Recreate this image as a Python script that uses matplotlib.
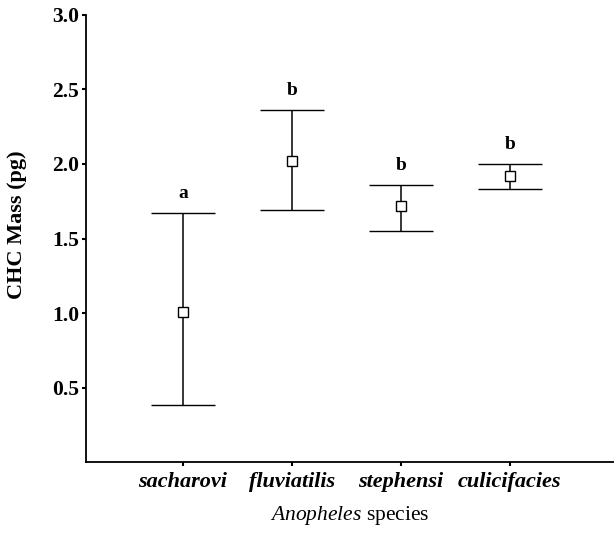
import numpy as np
import matplotlib
matplotlib.use("Agg")
import matplotlib.pyplot as plt

# data
species = ["sacharovi", "fluviatilis", "stephensi", "culicifacies"]
means = [1.01, 2.02, 1.72, 1.92]
upper = [1.67, 2.36, 1.86, 2.00]
lower = [0.38, 1.69, 1.55, 1.83]
letters = ["a", "b", "b", "b"]
yticks = [0.5, 1.0, 1.5, 2.0, 2.5, 3.0]

plt.rcParams['font.family'] = ['Liberation Serif', 'DejaVu Serif']
plt.rcParams['mathtext.fontset'] = 'custom'
plt.rcParams['mathtext.it'] = 'Liberation Serif:italic'
plt.rcParams['mathtext.rm'] = 'Liberation Serif'

fig = plt.figure(figsize=(6.14, 5.33), dpi=100)
ax = fig.add_axes([0.140, 0.133, 0.859, 0.839])

x = np.arange(1, len(species) + 1)
means = np.array(means)
err = [means - np.array(lower), np.array(upper) - means]

ax.errorbar(x, means, yerr=err, fmt='s', mfc='white', mec='black', ms=7, mew=1.0,
            ecolor='black', elinewidth=1.1, capsize=23, capthick=1.2, color='black')

# significance letters above the upper caps
for xi, up, lab in zip(x, upper, letters):
    ax.annotate(lab, (xi, up), xytext=(0, 8), textcoords='offset points',
                ha='center', va='bottom', fontsize=14, fontweight='bold')

ax.set_xlim(0.11, 4.95)
ax.set_ylim(0, 3.0)
ax.set_yticks(yticks)
ax.set_yticklabels([f"{t:.1f}" for t in yticks], fontsize=15.5, fontweight='bold')
ax.set_xticks(x)
ax.set_xticklabels(species, fontsize=16, fontweight='bold', style='italic')

ax.spines['top'].set_visible(False)
ax.spines['right'].set_visible(False)
ax.spines['left'].set_linewidth(1.3)
ax.spines['bottom'].set_linewidth(1.3)
ax.tick_params(axis='y', direction='out', length=3, width=1.5, pad=2)
ax.tick_params(axis='x', direction='out', length=3, width=1.5, pad=4)

ax.set_ylabel("CHC Mass (pg)", fontsize=16, fontweight='bold')
ax.yaxis.set_label_coords(-0.112, 0.53)

ax.set_xlabel(r"$\mathit{Anopheles}$ species", fontsize=15.5, labelpad=9)

fig.savefig("out.png", dpi=100)
